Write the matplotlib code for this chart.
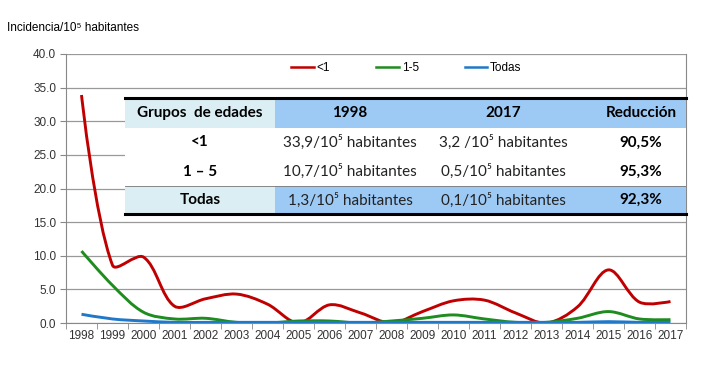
import matplotlib.pyplot as plt
from matplotlib.path import Path
from matplotlib.patches import PathPatch, Rectangle
from matplotlib.lines import Line2D

# datos
years = [str(y) for y in range(1998, 2018)]
menor1 = [33.9, 8.6, 9.8, 2.5, 3.6, 4.3, 2.8, 0.0, 2.7, 1.5, 0.0, 1.7, 3.3, 3.4, 1.5, 0.0, 2.4, 7.9, 3.1, 3.2]
uno_cinco = [10.7, 5.6, 1.6, 0.6, 0.7, 0.1, 0.0, 0.3, 0.3, 0.0, 0.3, 0.7, 1.2, 0.6, 0.1, 0.1, 0.7, 1.7, 0.6, 0.5]
todas = [1.3, 0.6, 0.3, 0.1, 0.1, 0.1, 0.1, 0.1, 0.1, 0.1, 0.1, 0.1, 0.1, 0.1, 0.1, 0.1, 0.1, 0.2, 0.1, 0.1]

series_labels = ['<1', '1-5', 'Todas']
series_colors = ['#C00000', '#1E8C1E', '#1F78C8']

tabla_header = ['Grupos  de edades', '1998', '2017', 'Reducción']
tabla_filas = [
    ['<1', '33,9/10⁵ habitantes', '3,2 /10⁵ habitantes', '90,5%'],
    ['1 – 5', '10,7/10⁵ habitantes', '0,5/10⁵ habitantes', '95,3%'],
    ['Todas', '1,3/10⁵ habitantes', '0,1/10⁵ habitantes', '92,3%'],
]

TFONT = ['Lato', 'DejaVu Sans']
plt.rcParams['font.family'] = ['Liberation Sans', 'DejaVu Sans']

# escala aproximada en pixeles por unidad (para suavizar como Excel)
SX, SY = 31.0, 269 / 40


def smooth_path(xs, ys):
    # curva suavizada (Bezier cúbica, tangentes ponderadas por longitud de tramo)
    pts = list(zip(xs, ys))
    n = len(pts)

    def dist(a, b):
        return (((b[0] - a[0]) * SX) ** 2 + ((b[1] - a[1]) * SY) ** 2) ** 0.5

    verts = [pts[0]]
    codes = [Path.MOVETO]
    for i in range(n - 1):
        p0 = pts[max(i - 1, 0)]
        p1 = pts[i]
        p2 = pts[i + 1]
        p3 = pts[min(i + 2, n - 1)]
        l01, l12, l23 = dist(p0, p1), dist(p1, p2), dist(p2, p3)
        f1 = l12 / (l01 + l12) / 3 if l01 > 0 else 1 / 3
        f2 = l12 / (l12 + l23) / 3 if l23 > 0 else 1 / 3
        if i == 0:
            f1 = 0.0
        if i == n - 2:
            f2 = 0.0
        c1 = (p1[0] + (p2[0] - p0[0]) * f1, p1[1] + (p2[1] - p0[1]) * f1)
        c2 = (p2[0] - (p3[0] - p1[0]) * f2, p2[1] - (p3[1] - p1[1]) * f2)
        verts += [c1, c2, p2]
        codes += [Path.CURVE4] * 3
    return Path(verts, codes)


fig = plt.figure(figsize=(7.08, 3.69), dpi=100)
ax = fig.add_axes([66 / 708, 46 / 369, 620 / 708, 269 / 369])

x = list(range(len(years)))
handles = []
for vals, lab, col in zip([menor1, uno_cinco, todas], series_labels, series_colors):
    ax.add_patch(PathPatch(smooth_path(x, vals), facecolor='none', edgecolor=col, lw=2.1, zorder=4))
    handles.append(Line2D([], [], color=col, lw=1.8, label=lab))

ax.set_xlim(-0.5, len(years) - 0.5)
ax.set_ylim(0, 40)
ax.set_yticks([i * 5 for i in range(9)])
ax.set_yticklabels([f'{i * 5:.1f}' for i in range(9)], fontsize=8.5, color='#333333')
ax.set_xticks(x)
ax.set_xticklabels(years, fontsize=8.5, color='#333333')
ax.set_xticks([i - 0.5 for i in range(len(years) + 1)], minor=True)
ax.tick_params(axis='x', which='major', length=0, pad=5)
ax.tick_params(axis='x', which='minor', length=4, color='#888888')
ax.tick_params(axis='y', length=4, color='#888888', pad=3)
ax.grid(axis='y', color='#999999', lw=0.9, zorder=1)
ax.set_axisbelow(True)
for s in ['left', 'bottom', 'right']:
    ax.spines[s].set_color('#888888')
ax.spines['top'].set_visible(False)

ax.legend(handles=handles, loc='center', bbox_to_anchor=(0.549, 0.948), ncol=3, frameon=False,
          fontsize=8.5, handlelength=1.9, columnspacing=3.9, handletextpad=0.25)

fig.text(7 / 708, 1 - 28 / 369, 'Incidencia/10⁵ habitantes', fontsize=8.5, va='center', ha='left')

# tabla superpuesta
tx0, tx1, tx2 = (125 - 66) / 620, (275 - 66) / 620, 1.0
row_y = [(323 - y) / 269 for y in [98, 128, 157, 186, 214]]
col_cx = [(200 - 66) / 620, (350 - 66) / 620, (503 - 66) / 620, (641 - 66) / 620]
ax.add_patch(Rectangle((tx0, row_y[4]), tx2 - tx0, row_y[0] - row_y[4], transform=ax.transAxes,
                       facecolor='white', edgecolor='none', zorder=5))
for r in [0, 3]:
    h = row_y[r] - row_y[r + 1]
    ax.add_patch(Rectangle((tx0, row_y[r + 1]), tx1 - tx0, h, transform=ax.transAxes,
                           facecolor='#DAEEF3', edgecolor='none', zorder=5))
    ax.add_patch(Rectangle((tx1, row_y[r + 1]), tx2 - tx1, h, transform=ax.transAxes,
                           facecolor='#9DC9F5', edgecolor='none', zorder=5))
ax.plot([tx0, tx2], [row_y[0], row_y[0]], color='black', lw=2.2, transform=ax.transAxes, zorder=6, clip_on=False)
ax.plot([tx0, tx2], [row_y[4], row_y[4]], color='black', lw=2.2, transform=ax.transAxes, zorder=6, clip_on=False)
ax.plot([tx0, tx2], [row_y[3], row_y[3]], color='#777777', lw=0.6, transform=ax.transAxes, zorder=6)

rows = [tabla_header] + tabla_filas
for r, fila in enumerate(rows):
    yc = (row_y[r] + row_y[r + 1]) / 2
    for c, txt in enumerate(fila):
        bold = r == 0 or c == 0 or c == 3
        ax.text(col_cx[c], yc, txt, transform=ax.transAxes, ha='center', va='center',
                fontsize=11, fontweight='bold' if bold else 'normal', family=TFONT,
                color='black' if bold else '#222222', zorder=7)

fig.savefig('out.png', dpi=100)
